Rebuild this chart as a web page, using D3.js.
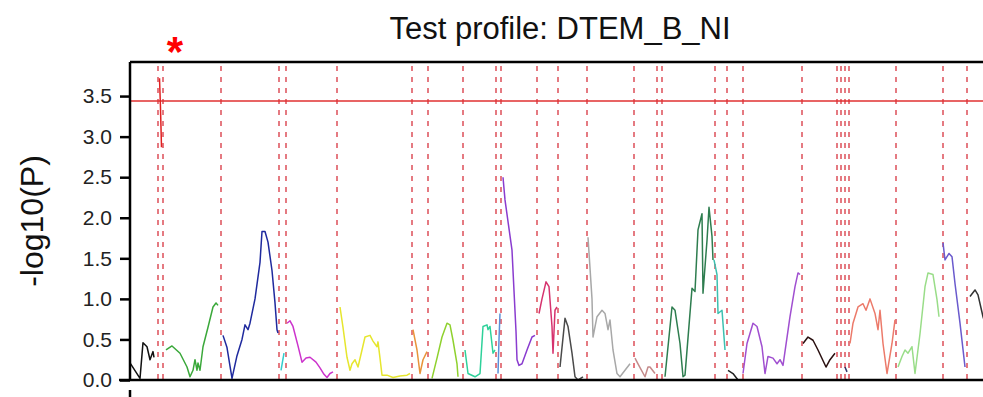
<!DOCTYPE html>
<html>
<head>
<meta charset="utf-8">
<script src="https://cdn.jsdelivr.net/npm/d3@7"></script>
<style>
  html, body { margin: 0; padding: 0; background: #fff; }
  svg { display: block; font-family: "Liberation Sans", Arial, sans-serif; }
</style>
</head>
<body>
<div id="chart"></div>
<script>
// Region boundaries (position along the profile)
const boundaries = [28, 33, 91, 149, 156, 207, 282, 298, 333, 366, 371, 407, 428, 457,
    504, 527, 532, 585, 597, 613, 672, 707, 711, 715, 719, 766, 813, 837];

const yTicks = [0.0, 0.5, 1.0, 1.5, 2.0, 2.5, 3.0, 3.5];
const threshold = 3.44;

// one entry per region: colour, positions, -log10(P)
const segColors = ['#111111', '#e02020', '#3aa83a', '#1f2a9e', '#33cccc', '#cc33cc', '#e6e62e',
    '#e8943a', '#8fd12e', '#2ed19a', '#5b8ed8', '#8a3ccf', '#d6336e', '#4a4a4a', '#a8a8a8',
    '#c48a8a', '#2e7d4f', '#3cc0b0', '#222222', '#a04fd0', '#2a1010', '#333366', '#ec7a6a',
    '#99dd88', '#6a5acd', '#333333'];

const segPos = [
    [0, 10, 13, 17, 20, 23, 24],
    [29.5, 30.5, 31.5],
    [36, 42, 50, 57, 60, 63, 65, 67, 68, 70, 73, 78, 83, 86, 88],
    [93, 97, 102, 107, 112, 115, 118, 120, 125, 130, 132, 135, 138, 142, 145, 147, 148],
    [151, 154],
    [157, 160, 163, 168, 172, 176, 180, 186, 190, 194, 197, 200, 203],
    [210, 213, 217, 220, 222, 225, 228, 232, 235, 240, 243, 247, 248, 250, 252, 257, 263, 270, 277, 280],
    [283, 287, 290, 293, 297],
    [302, 307, 312, 317, 320, 323, 327, 328],
    [335, 338, 345, 350, 353, 357, 358, 360, 363, 365],
    [368, 369, 370],
    [373, 375, 382, 386, 387, 389, 392, 397, 402, 405],
    [409, 412, 416, 419, 422, 423, 425, 427],
    [430, 435, 438, 442, 445, 448, 453],
    [458, 462, 463, 467, 472, 475, 478, 480, 483, 487, 490, 495, 500],
    [505, 508, 515, 518, 520, 525],
    [535, 542, 545, 550, 553, 555, 562, 565, 568, 572, 573, 577, 579, 582, 583],
    [584, 587, 588, 592, 595],
    [598, 603, 608],
    [613, 617, 623, 627, 632, 635, 638, 643, 647, 650, 653, 660, 665, 668, 670],
    [673, 678, 683, 688, 696, 700, 705],
    [715, 717],
    [720, 723, 728, 733, 736, 740, 745, 748, 750, 753, 757, 762, 765],
    [768, 772, 775, 778, 782, 785, 790, 795, 798, 803, 807, 809],
    [813, 815, 819, 822, 825, 830, 835],
    [840, 845, 848, 853, 860]
];

const segVals = [
    [0.21, 0.02, 0.46, 0.41, 0.25, 0.35, 0.28],
    [3.72, 3.35, 2.87],
    [0.37, 0.42, 0.33, 0.16, 0.04, 0.12, 0.25, 0.12, 0.21, 0.12, 0.41, 0.65, 0.90, 0.95, 0.92],
    [0.55, 0.40, 0.02, 0.30, 0.50, 0.68, 0.62, 0.70, 1.00, 1.45, 1.83, 1.83, 1.70, 1.35, 0.95, 0.62, 0.58],
    [0.12, 0.33],
    [0.70, 0.73, 0.66, 0.42, 0.22, 0.27, 0.28, 0.22, 0.15, 0.07, 0.03, 0.08, 0.10],
    [0.90, 0.65, 0.28, 0.12, 0.20, 0.25, 0.16, 0.37, 0.53, 0.55, 0.48, 0.41, 0.47, 0.27, 0.06, 0.06, 0.03, 0.05, 0.06, 0.08],
    [0.62, 0.37, 0.08, 0.25, 0.35],
    [0.02, 0.27, 0.53, 0.70, 0.68, 0.49, 0.20, 0.04],
    [0.37, 0.08, 0.04, 0.08, 0.66, 0.68, 0.62, 0.66, 0.33, 0.37],
    [0.08, 0.50, 0.82],
    [2.50, 2.22, 1.60, 0.60, 0.25, 0.18, 0.20, 0.37, 0.53, 0.55],
    [0.82, 1.00, 1.21, 1.15, 0.66, 0.33, 0.86, 0.90],
    [0.16, 0.76, 0.66, 0.33, 0.04, 0.00, 0.04],
    [1.76, 1.00, 0.53, 0.78, 0.86, 0.82, 0.62, 0.74, 0.37, 0.08, 0.04, 0.12, 0.20],
    [0.27, 0.20, 0.04, 0.16, 0.16, 0.08],
    [0.04, 0.90, 0.86, 0.45, 0.04, 0.06, 1.13, 1.09, 1.85, 2.05, 1.07, 1.72, 2.13, 1.77, 1.48],
    [1.48, 1.30, 0.82, 0.86, 0.37],
    [0.12, 0.08, 0.00],
    [0.08, 0.45, 0.70, 0.66, 0.41, 0.08, 0.29, 0.27, 0.20, 0.25, 0.18, 0.78, 1.15, 1.32, 1.30],
    [0.45, 0.53, 0.49, 0.37, 0.16, 0.25, 0.33],
    [0.16, 0.10],
    [0.45, 0.70, 0.90, 0.94, 0.86, 1.00, 0.82, 0.62, 0.86, 0.45, 0.08, 0.45, 0.74],
    [0.16, 0.29, 0.37, 0.33, 0.41, 0.08, 0.57, 1.15, 1.32, 1.30, 0.99, 0.78],
    [1.69, 1.48, 1.56, 1.52, 1.19, 0.70, 0.16],
    [1.03, 1.11, 1.05, 0.78, 0.50]
];

const width = 983;
const height = 397;
const margin = { top: 62, left: 130, bottom: 17 };

const svg = d3.select('#chart')
    .append('svg')
    .attr('width', width)
    .attr('height', height);

// Scales
const x = d3.scaleLinear()
    .domain([0, 870])
    .range([margin.left, margin.left + 870]);

const y = d3.scaleLinear()
    .domain([0, 3.92])
    .range([height - margin.bottom, margin.top]);

// Title
svg.append('text')
    .attr('x', 560)
    .attr('y', 39)
    .attr('text-anchor', 'middle')
    .style('font-size', '31px')
    .style('fill', '#111')
    .text('Test profile: DTEM_B_NI');

// Significance marker
svg.append('text')
    .attr('x', 175)
    .attr('y', 66)
    .attr('text-anchor', 'middle')
    .style('font-size', '42px')
    .style('font-weight', 'bold')
    .style('fill', '#ff0000')
    .text('*');

// Region boundaries
svg.append('g')
    .selectAll('line')
    .data(boundaries)
    .join('line')
    .attr('x1', d => x(d))
    .attr('x2', d => x(d))
    .attr('y1', y(3.92) + 4)
    .attr('y2', y(0))
    .attr('stroke', '#d8343f')
    .attr('stroke-width', 1.3)
    .attr('stroke-dasharray', '5,6');

// Threshold line
svg.append('line')
    .attr('x1', x(0))
    .attr('x2', width)
    .attr('y1', y(threshold))
    .attr('y2', y(threshold))
    .attr('stroke', '#e03030')
    .attr('stroke-width', 1.5);

// Profile curves
const line = d3.line()
    .x(d => x(d[0]))
    .y(d => y(d[1]));

svg.append('g')
    .selectAll('path')
    .data(segPos.map((p, i) => ({ color: segColors[i], pts: p.map((v, j) => [v, segVals[i][j]]) })))
    .join('path')
    .attr('d', d => line(d.pts))
    .attr('fill', 'none')
    .attr('stroke', d => d.color)
    .attr('stroke-width', 1.5)
    .attr('stroke-linejoin', 'round');

// Box: top and bottom
svg.append('line')
    .attr('x1', x(0)).attr('x2', width)
    .attr('y1', y(3.92)).attr('y2', y(3.92))
    .attr('stroke', '#000').attr('stroke-width', 2.5);
svg.append('line')
    .attr('x1', x(0) - 11).attr('x2', width)
    .attr('y1', y(0)).attr('y2', y(0))
    .attr('stroke', '#000').attr('stroke-width', 2.5);

// Y axis
const yAxis = svg.append('g')
    .attr('transform', `translate(${x(0)},0)`)
    .call(d3.axisLeft(y).tickValues(yTicks).tickFormat(d3.format('.1f')).tickSize(10).tickPadding(8));

yAxis.select('.domain')
    .attr('d', `M0,${y(3.92)}V${y(0)}`)
    .attr('stroke-width', 2.5);
yAxis.selectAll('.tick line').attr('stroke-width', 2.5);
yAxis.selectAll('.tick text')
    .style('font-size', '21px')
    .style('fill', '#222')
    .style('font-family', '"Liberation Sans", Arial, sans-serif');

// X axis stub (first tick only, below the box)
svg.append('line')
    .attr('x1', x(0)).attr('x2', x(0))
    .attr('y1', 390).attr('y2', height)
    .attr('stroke', '#000').attr('stroke-width', 2.5);

// Y label
svg.append('text')
    .attr('transform', `translate(43,${(y(0) + y(3.92)) / 2}) rotate(-90)`)
    .attr('text-anchor', 'middle')
    .style('font-size', '32px')
    .style('fill', '#111')
    .text('-log10(P)');
</script>
</body>
</html>
